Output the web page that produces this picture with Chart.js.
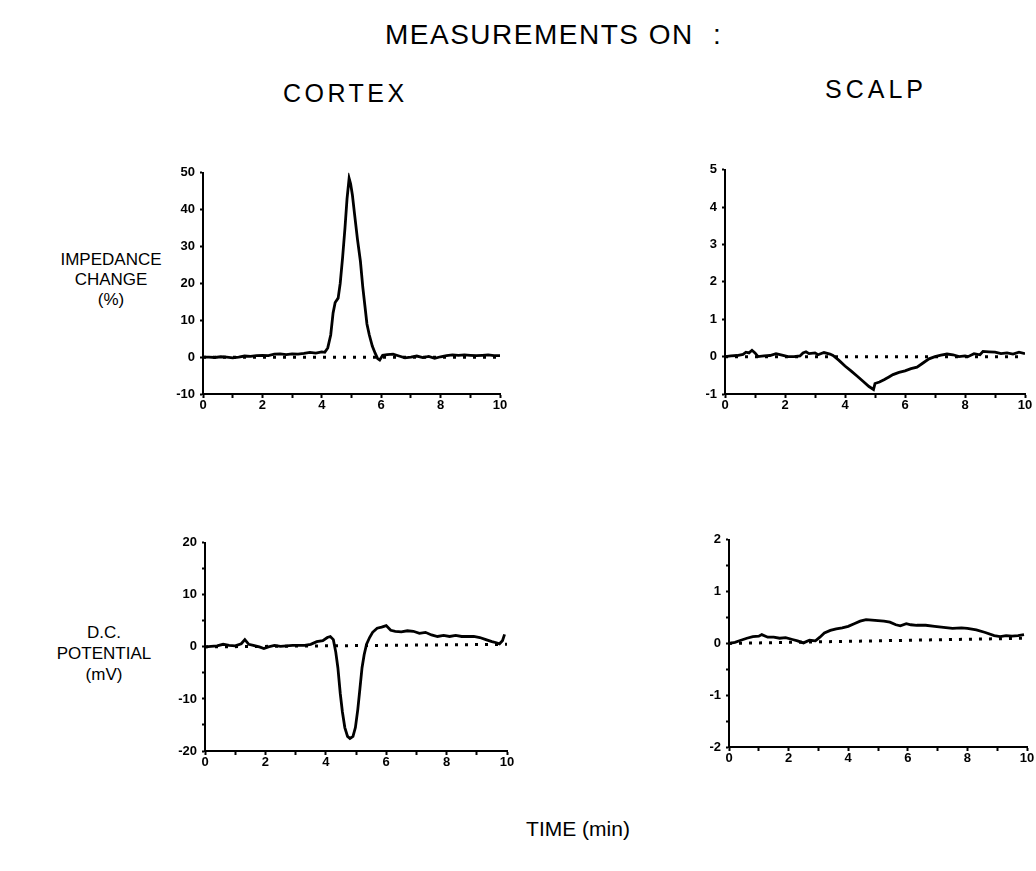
<!DOCTYPE html>
<html lang="en">
<head>
<meta charset="UTF-8">
<title>Measurements on cortex and scalp</title>
<style>
  html, body { margin: 0; padding: 0; background: #fff; overflow: hidden; }
  #page { position: relative; width: 1036px; height: 871px; font-family: "Liberation Sans", Arial, sans-serif; color: #000; }
  .txt { position: absolute; white-space: nowrap; line-height: 1; }
  .ctr { transform: translateX(-50%); text-align: center; }
  canvas { position: absolute; }
</style>
</head>
<body>
<div id="page">
  <div class="txt" style="left:385px; top:21px; font-size:28px; letter-spacing:1.5px;">MEASUREMENTS ON</div>
  <div class="txt" style="left:713px; top:21px; font-size:28px;">:</div>
  <div class="txt" style="left:283px; top:81px; font-size:25px; letter-spacing:3.5px;">CORTEX</div>
  <div class="txt" style="left:825px; top:77px; font-size:25px; letter-spacing:4px;">SCALP</div>

  <div class="txt ctr" style="left:111px; top:250px; font-size:17px; line-height:20px;">IMPEDANCE<br>CHANGE<br>(%)</div>
  <div class="txt ctr" style="left:104px; top:622px; font-size:17px; line-height:21px;">D.C.<br>POTENTIAL<br>(mV)</div>

  <div class="txt ctr" style="left:578px; top:818px; font-size:21px;">TIME (min)</div>

  <canvas id="cortexImp"></canvas>
  <canvas id="scalpImp"></canvas>
  <canvas id="cortexDc"></canvas>
  <canvas id="scalpDc"></canvas>
</div>

<script src="https://cdn.jsdelivr.net/npm/chart.js@4.4.1/dist/chart.umd.min.js"></script>
<script>
  // time axis ticks (min)
  const timeTicks = [0, 2, 4, 6, 8, 10]

  // cortex - impedance change (%)
  const cortexImpT = [0, 0.2, 0.4, 0.6, 0.8, 1.0, 1.2, 1.4, 1.6, 1.8, 2.0, 2.2, 2.4, 2.6, 2.8, 3.0, 3.2, 3.4, 3.6, 3.8, 4.0, 4.1,
    4.2, 4.3, 4.38, 4.45, 4.55, 4.62, 4.7, 4.78, 4.85, 4.92, 4.97, 5.03, 5.1, 5.2, 5.3, 5.38, 5.45, 5.52, 5.6, 5.7, 5.8,
    5.88, 5.95, 6.05, 6.2, 6.4, 6.6, 6.8, 7.0, 7.2, 7.4, 7.6, 7.8, 8.0, 8.2, 8.4, 8.6, 8.8, 9.0, 9.2, 9.4, 9.6, 9.8, 10]
  const cortexImpV = [0, 0, -0.1, 0.1, 0, -0.2, 0, 0.3, 0.2, 0.4, 0.5, 0.4, 0.8, 0.9, 0.7, 0.9, 0.8, 1.0, 1.3, 1.1, 1.4, 1.3,
    2.5, 6, 12, 14.8, 16, 20, 27, 35, 43, 48.5, 47, 44, 39, 32, 26, 19, 14, 9, 6, 3, 1,
    -0.4, -0.8, 0.5, 0.7, 0.8, 0.3, -0.2, 0, 0.3, -0.1, 0.2, -0.3, 0.1, 0.4, 0.6, 0.5, 0.6, 0.5, 0.4, 0.5, 0.6, 0.4, 0.4]
  const cortexImpBase = [0, 0]

  // scalp - impedance change (%)
  const scalpImpT = [0, 0.2, 0.4, 0.6, 0.7, 0.8, 0.9, 1.0, 1.1, 1.3, 1.5, 1.7, 1.9, 2.1, 2.3, 2.5, 2.6, 2.7, 2.8, 3.0, 3.1,
    3.3, 3.5, 3.6, 3.8, 4.0, 4.2, 4.4, 4.6, 4.8, 4.95, 5.0, 5.15, 5.3, 5.45, 5.6, 5.8, 6.0, 6.2, 6.4, 6.6, 6.8, 7.0,
    7.2, 7.4, 7.6, 7.8, 8.0, 8.1, 8.3, 8.5, 8.6, 8.8, 9.0, 9.2, 9.4, 9.6, 9.8, 10]
  const scalpImpV = [0, 0.02, 0.03, 0.06, 0.12, 0.1, 0.17, 0.1, 0, 0.02, 0.03, 0.08, 0.04, 0, 0, 0.02, 0.1, 0.13, 0.08, 0.1, 0.05,
    0.11, 0.07, 0.03, -0.1, -0.25, -0.38, -0.52, -0.66, -0.8, -0.88, -0.72, -0.68, -0.62, -0.55, -0.48, -0.42, -0.38, -0.32, -0.28, -0.17, -0.06, 0,
    0.04, 0.07, 0.05, 0, 0.02, 0, 0.08, 0.05, 0.14, 0.13, 0.12, 0.08, 0.1, 0.07, 0.12, 0.08]
  const scalpImpBase = [0, 0]

  // cortex - d.c. potential (mV)
  const cortexDcT = [0, 0.2, 0.4, 0.6, 0.8, 1.0, 1.2, 1.32, 1.45, 1.6, 1.8, 1.95, 2.1, 2.3, 2.5, 2.7, 2.9, 3.1, 3.3, 3.5, 3.7,
    3.9, 4.05, 4.15, 4.25, 4.33, 4.4, 4.48, 4.55, 4.63, 4.72, 4.8, 4.9, 4.98, 5.06, 5.13, 5.2, 5.27, 5.35, 5.45, 5.55,
    5.7, 5.85, 6.0, 6.15, 6.3, 6.5, 6.7, 6.9, 7.1, 7.3, 7.5, 7.7, 7.9, 8.1, 8.3, 8.5, 8.7, 8.9, 9.1, 9.3, 9.5, 9.65,
    9.75, 9.85, 9.92]
  const cortexDcV = [0, 0.1, 0.2, 0.5, 0.3, 0.2, 0.6, 1.4, 0.5, 0.3, 0, -0.3, 0, 0.3, 0.1, 0.2, 0.3, 0.3, 0.3, 0.5, 1.0,
    1.2, 1.8, 2.0, 1.4, -1, -4, -9, -12.5, -15.5, -17.2, -17.6, -17.2, -15.5, -12, -8, -4, -1.5, 0.5, 1.8, 2.8,
    3.6, 3.8, 4.1, 3.2, 3.0, 2.9, 3.1, 3.0, 2.6, 2.8, 2.3, 2.0, 2.2, 2.0, 2.2, 2.0, 2.0, 2.0, 1.8, 1.4, 1.0, 0.8,
    0.6, 1.2, 2.4]
  const cortexDcBase = [0, 0.5]

  // scalp - d.c. potential (mV)
  const scalpDcT = [0, 0.2, 0.4, 0.6, 0.8, 1.0, 1.1, 1.3, 1.5, 1.7, 1.9, 2.1, 2.3, 2.5, 2.7, 2.9, 3.05, 3.2, 3.4, 3.6, 3.8,
    4.0, 4.2, 4.4, 4.6, 4.8, 5.0, 5.2, 5.4, 5.6, 5.75, 5.95, 6.1, 6.3, 6.6, 6.9, 7.2, 7.5, 7.8, 8.0, 8.3, 8.6, 8.9,
    9.1, 9.3, 9.5, 9.7, 9.9]
  const scalpDcV = [0, 0.02, 0.06, 0.1, 0.13, 0.14, 0.17, 0.12, 0.12, 0.1, 0.11, 0.08, 0.05, 0.01, 0.06, 0.05, 0.12, 0.2, 0.25, 0.28, 0.3,
    0.33, 0.38, 0.43, 0.46, 0.45, 0.44, 0.43, 0.41, 0.36, 0.34, 0.38, 0.36, 0.35, 0.35, 0.33, 0.31, 0.29, 0.3, 0.29, 0.26, 0.21, 0.15,
    0.13, 0.15, 0.14, 0.15, 0.17]
  const scalpDcBase = [0, 0.1]

  // y ranges: [min, max, tick step, label every]
  const cortexImpAxis = [-10, 50, 10, 10]
  const scalpImpAxis = [-1, 5, 1, 1]
  const cortexDcAxis = [-20, 20, 5, 10]
  const scalpDcAxis = [-2, 2, 0.5, 1]

  // plot area of each panel on the page (left, top, right, bottom)
  const boxes = {
    cortexImp: [203, 172, 500, 394],
    scalpImp: [725, 169, 1025, 394],
    cortexDc: [205, 542, 507, 751],
    scalpDc: [729, 539, 1027, 747]
  }

  const YW = 50, XH = 22, PT = 12, PR = 9

  const tickFont = { family: 'Liberation Sans', size: 13, weight: 'bold' }

  const toPoints = (ts, vs) => ts.map((t, i) => ({ x: t, y: vs[i] }))

  const makePanel = (id, ts, vs, base, axis) => {
    const b = boxes[id]
    const cv = document.getElementById(id)
    const w = b[2] - b[0] + YW + PR
    const h = b[3] - b[1] + PT + XH
    cv.width = w
    cv.height = h
    cv.style.left = (b[0] - YW) + 'px'
    cv.style.top = (b[1] - PT) + 'px'
    cv.style.width = w + 'px'
    cv.style.height = h + 'px'

    new Chart(cv.getContext('2d'), {
      type: 'line',
      data: {
        datasets: [{
          data: toPoints(ts, vs),
          borderColor: '#000',
          borderWidth: 2.8,
          pointRadius: 0,
          tension: 0,
          fill: false
        }, {
          data: toPoints([0, 10], base),
          borderColor: '#000',
          borderWidth: 3,
          borderDash: [3, 7],
          borderCapStyle: 'butt',
          pointRadius: 0,
          fill: false
        }]
      },
      options: {
        responsive: false,
        animation: false,
        devicePixelRatio: 1,
        layout: { padding: { top: PT, right: PR, left: 0, bottom: 0 } },
        plugins: { legend: { display: false }, tooltip: { enabled: false } },
        scales: {
          x: {
            type: 'linear', min: 0, max: 10,
            afterFit: s => { s.height = XH },
            border: { display: true, color: '#000', width: 2 },
            grid: { drawOnChartArea: false, drawTicks: true, tickLength: 4, tickColor: '#000', tickWidth: 2 },
            ticks: {
              stepSize: 1, autoSkip: false, maxRotation: 0, padding: 0, color: '#000', font: tickFont,
              callback: v => timeTicks.includes(v) ? String(v) : ''
            }
          },
          y: {
            min: axis[0], max: axis[1],
            afterFit: s => { s.width = YW },
            border: { display: true, color: '#000', width: 2 },
            grid: { drawOnChartArea: false, drawTicks: true, tickLength: 3, tickColor: '#000', tickWidth: 2 },
            ticks: {
              stepSize: axis[2], autoSkip: false, padding: 5, color: '#000', font: tickFont,
              callback: v => Math.abs(v % axis[3]) < 1e-9 ? String(v) : ''
            }
          }
        }
      }
    })
  }

  makePanel('cortexImp', cortexImpT, cortexImpV, cortexImpBase, cortexImpAxis)
  makePanel('scalpImp', scalpImpT, scalpImpV, scalpImpBase, scalpImpAxis)
  makePanel('cortexDc', cortexDcT, cortexDcV, cortexDcBase, cortexDcAxis)
  makePanel('scalpDc', scalpDcT, scalpDcV, scalpDcBase, scalpDcAxis)
</script>
</body>
</html>
